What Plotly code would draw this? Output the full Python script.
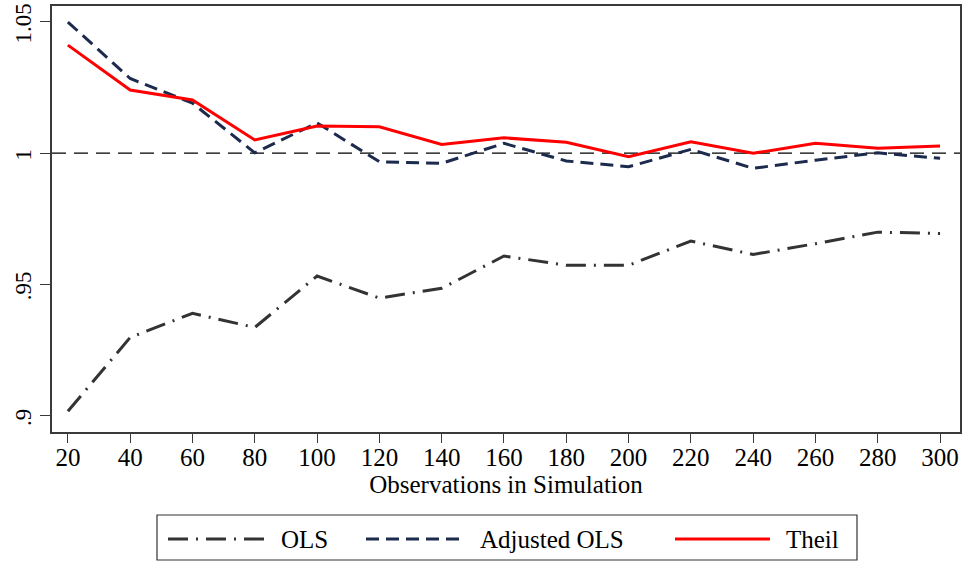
import plotly.graph_objects as go

# Simulation sample sizes
obs = [20, 40, 60, 80, 100, 120, 140, 160, 180, 200, 220, 240, 260, 280, 300]

# Mean ratio of estimated to true value for each estimator
ols = [0.9017, 0.9298, 0.9390, 0.9336, 0.9532, 0.9448, 0.9485, 0.9608,
       0.9573, 0.9573, 0.9665, 0.9614, 0.9655, 0.9699, 0.9694]
adjusted_ols = [1.0499, 1.0284, 1.0190, 1.0001, 1.0115, 0.9967, 0.9961, 1.0037,
                0.9970, 0.9948, 1.0014, 0.9942, 0.9973, 1.0001, 0.9980]
theil = [1.0411, 1.0240, 1.0202, 1.0050, 1.0103, 1.0100, 1.0033, 1.0058,
         1.0041, 0.9986, 1.0043, 0.9999, 1.0037, 1.0018, 1.0027]

y_ticks = [0.9, 0.95, 1.0, 1.05]
y_tick_labels = [".9", ".95", "1", "1.05"]

series_names = ["OLS", "Adjusted OLS", "Theil"]

FONT = "Liberation Serif"
FS = 25
OLS_STYLE = dict(color="#333333", width=3, dash="20px,8px,2px,8px")
ADJ_STYLE = dict(color="#1c2a4d", width=3, dash="13px,7px")
THEIL_STYLE = dict(color="#ff0000", width=3)

W, H = 967, 563
L, R, T, B = 52, 7, 6, 131

fig = go.Figure()
for name, vals, style in zip(series_names, [ols, adjusted_ols, theil],
                             [OLS_STYLE, ADJ_STYLE, THEIL_STYLE]):
    fig.add_trace(go.Scatter(x=obs, y=vals, mode="lines", name=name,
                             line=style, showlegend=False))

# Reference line at a ratio of one
fig.add_shape(type="line", xref="paper", x0=0, x1=1, yref="y", y0=1, y1=1,
              line=dict(color="#000000", width=1.2, dash="14px,8px"), layer="below")

# Boxed legend below the plot, with long line samples
pw, ph = W - L - R, H - T - B


def px_x(p):
    return (p - L) / pw


def px_y(p):
    return (H - B - p) / ph


fig.add_shape(type="rect", xref="paper", yref="paper",
              x0=px_x(157), x1=px_x(857), y0=px_y(560), y1=px_y(515),
              line=dict(color="#333333", width=1.2), fillcolor="white")
legend_items = [
    (series_names[0], OLS_STYLE, 168, 264, 279),
    (series_names[1], ADJ_STYLE, 366, 460, 478),
    (series_names[2], THEIL_STYLE, 675, 770, 784),
]
ly = px_y(539)
for name, style, x0, x1, tx in legend_items:
    fig.add_shape(type="line", xref="paper", yref="paper",
                  x0=px_x(x0), x1=px_x(x1), y0=ly, y1=ly, line=style)
    fig.add_annotation(text=name, xref="paper", yref="paper", x=px_x(tx), y=ly,
                       xanchor="left", yanchor="middle", showarrow=False,
                       font=dict(family=FONT, size=FS, color="#000000"))

axis_common = dict(showgrid=False, zeroline=False, showline=True, mirror=True,
                   linecolor="#3a3a3a", linewidth=1.5, ticks="outside",
                   tickcolor="#3a3a3a", tickwidth=1.2, automargin=False,
                   ticklabeloverflow="allow")

fig.update_xaxes(range=[14.9, 306.4], tickvals=obs, ticklen=9,
                 ticklabelstandoff=-7,
                 tickfont=dict(family=FONT, size=FS, color="#000000"),
                 title=dict(text="Observations in Simulation",
                            font=dict(family=FONT, size=FS, color="#000000"),
                            standoff=6),
                 **axis_common)
fig.update_yaxes(range=[0.8938, 1.056], tickvals=y_ticks, ticktext=y_tick_labels,
                 tickangle=-90, ticklen=10, ticklabelshift=5,
                 tickfont=dict(family=FONT, size=23, color="#000000"),
                 **axis_common)

fig.update_layout(width=W, height=H, margin=dict(l=L, r=R, t=T, b=B),
                  plot_bgcolor="white", paper_bgcolor="white",
                  font=dict(family=FONT))

fig.write_html("out.html")
